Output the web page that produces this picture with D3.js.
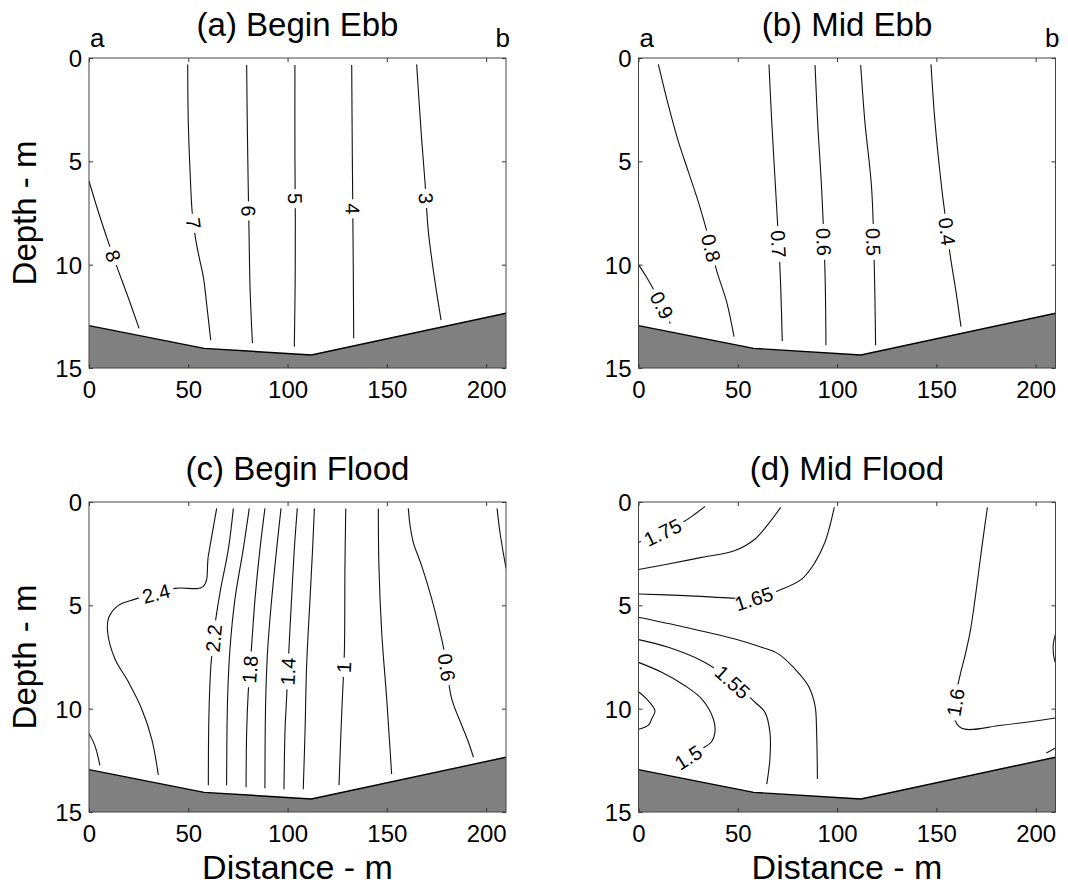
<!DOCTYPE html>
<html>
<head>
<meta charset="utf-8">
<script src="https://cdn.jsdelivr.net/npm/d3@7"></script>
<style>
  html, body { margin: 0; padding: 0; background: #fff; }
  svg text { font-family: "Liberation Sans", Arial, Helvetica, sans-serif; fill: #000; }
</style>
</head>
<body>
<svg id="fig" width="1068" height="888"></svg>
<script>
// ---- axis ticks and channel bed (distance m, depth m) ----
const distanceTicks = [0, 50, 100, 150, 200];
const depthTicks = [0, 5, 10, 15];
const bedProfile = [[0, 12.95], [58, 14.05], [112, 14.37], [210, 12.35]];
const panelTitles = ["(a) Begin Ebb", "(b) Mid Ebb", "(c) Begin Flood", "(d) Mid Flood"];

// ---- contour lines: level, label anchor [distance, depth] (null = unlabeled), vertices ----
const beginEbbContours = [
  { level: "8", label: [11.4, 9.6], points: [[0, 5.95], [4.7, 7.44], [9.7, 8.9], [14.8, 10.3], [19.8, 11.6], [25.2, 13.08]] },
  { level: "7", label: [52.5, 8.0], points: [[49.7, 0.31], [50, 3.08], [50.9, 5.5], [52, 7.5], [53.6, 8.7], [55.6, 9.7], [57.6, 10.6], [59.3, 11.95], [61.3, 13.65]] },
  { level: "6", label: [80.3, 7.4], points: [[79.4, 0.34], [79.7, 3.08], [80.2, 6.3], [80.6, 8.5], [81.1, 11.1], [82.3, 13.8]] },
  { level: "5", label: [103.8, 6.8], points: [[103.7, 0.34], [103.7, 4.7], [103.9, 8.0], [103.8, 11.0], [103.4, 13.97]] },
  { level: "4", label: [132.5, 7.3], points: [[132.3, 0.34], [132.6, 4.7], [132.9, 8.0], [133.1, 10.3], [133.3, 13.56]] },
  { level: "3", label: [169.0, 6.8], points: [[165, 0.31], [167.5, 3.9], [169.2, 6.0], [170.9, 8.4], [174.2, 10.8], [177.3, 12.68]] }
];

const midEbbContours = [
  { level: "0.9", label: [11, 12.0], points: [[0, 10.0], [4, 10.6], [9, 11.45], [12.5, 12.1], [16, 12.85]] },
  { level: "0.8", label: [36.3, 9.2], points: [[10, 0.31], [15, 2.27], [20.1, 4.05], [25.1, 5.5], [30.1, 6.95], [35, 8.6], [39.4, 10.3], [44.4, 11.8], [48.1, 13.48]] },
  { level: "0.7", label: [70.2, 9.0], points: [[65.7, 0.31], [67.1, 3.08], [69.6, 7.27], [71.3, 10.3], [72.4, 13.7]] },
  { level: "0.6", label: [93.2, 8.9], points: [[88.9, 0.34], [90.2, 3.08], [92.2, 6.3], [93.9, 10.3], [94.4, 13.9]] },
  { level: "0.5", label: [118.2, 8.9], points: [[111.9, 0.34], [114, 3.08], [117.4, 6.3], [118.8, 10.3], [119.4, 13.9]] },
  { level: "0.4", label: [155.0, 8.4], points: [[147.3, 0.31], [149.3, 3.08], [152.7, 6.3], [154.4, 7.6], [156.9, 9.5], [160.2, 11.5], [162.4, 13.0]] }
];

const beginFloodContours = [
  { level: "2.6", label: null, points: [[0, 11.2], [3, 11.8], [5.5, 12.75]] },
  { level: "2.4", label: [34, 4.5], points: [[34.9, 13.2], [31.6, 11.47], [26.5, 10.0], [19.8, 8.7], [13.1, 7.6], [9.4, 6.3], [9.9, 5.6], [14.8, 5.0], [23.2, 4.7], [43.3, 4.18], [57.6, 4.08], [60.1, 2.6], [64.3, 0.31]] },
  { level: "2.2", label: [63.4, 6.6], points: [[72.7, 0.31], [70.2, 2.27], [66, 4.37], [63.4, 5.98], [61.4, 7.9], [60.4, 10.3], [60.1, 13.7]] },
  { level: "2", label: null, points: [[80.7, 0.31], [77.7, 2.27], [73.5, 4.7], [71, 7.1], [69.8, 9.5], [69.3, 13.7]] },
  { level: "1.8", label: [81.0, 8.1], points: [[88.6, 0.31], [86.1, 2.27], [83.6, 4.7], [81.9, 6.95], [80.2, 9.2], [79.4, 11.1], [79.1, 13.8]] },
  { level: "1.6", label: null, points: [[96.7, 0.31], [94.5, 2.27], [92, 4.7], [90, 7.1], [89, 9.5], [88.6, 13.85]] },
  { level: "1.4", label: [100.1, 8.2], points: [[104.9, 0.31], [103.4, 2.27], [102, 4.7], [100.7, 7.1], [99.5, 9.5], [98.7, 11.1], [98.2, 13.9]] },
  { level: "1.2", label: null, points: [[113.5, 0.31], [112.6, 2.27], [111.3, 4.7], [109.6, 7.9], [108.8, 11.1], [107.9, 13.9]] },
  { level: "1", label: [128.2, 8.0], points: [[129.3, 0.31], [128.9, 3.08], [128.6, 7.27], [127.6, 9.5], [126.9, 11.1], [125.9, 13.7]] },
  { level: "0.8", label: null, points: [[145.7, 0.31], [146, 3.08], [147.4, 6.3], [149.9, 9.5], [151.6, 11.95], [152.4, 13.16]] },
  { level: "0.6", label: [180.3, 8.0], points: [[160.8, 0.31], [161.7, 1.15], [163.3, 1.95], [167.5, 3.08], [172.6, 4.69], [176.8, 6.3], [179, 7.27], [182.6, 9.5], [187.7, 10.8], [191, 11.6], [193.6, 12.35]] },
  { level: "0.4", label: null, points: [[205.5, 0.31], [207, 1.5], [210, 3.2]] }
];

const midFloodContours = [
  { level: "1.75", label: [12, 1.45], points: [[0, 1.95], [5, 1.8], [21.7, 1.02], [28.5, 0.58], [33.5, 0.21]] },
  { level: "1.7", label: null, points: [[0, 3.27], [15, 3.0], [31.8, 2.68], [48.6, 2.35], [58.7, 1.79], [65.4, 1.06], [71.6, 0.26]] },
  { level: "1.65", label: [58, 4.66], points: [[0, 4.45], [23.4, 4.53], [46.9, 4.65], [58, 4.68], [70.4, 4.29], [82.2, 3.73], [88.9, 2.92], [93.9, 1.95], [96.4, 1.15], [98.6, 0.26]] },
  { level: "1.6", label: null, points: [[0, 5.58], [23.4, 6.06], [48.6, 6.63], [62, 7.03], [70.4, 7.35], [78.8, 8.08], [85.5, 8.89], [88.9, 9.85], [89.7, 11.15], [90.1, 13.4]] },
  { level: "1.55", label: [47, 8.75], points: [[0, 6.66], [15, 7.03], [31.8, 7.68], [45, 8.5], [58.7, 9.69], [63.7, 10.18], [66.2, 11.15], [66.2, 12.4], [64.6, 13.65]] },
  { level: "1.5", label: [25, 12.35], points: [[0, 7.76], [11.7, 8.24], [23.4, 8.89], [31.8, 9.53], [37.7, 10.5], [38.5, 11.15], [36.8, 11.6], [31.8, 11.95], [18.4, 12.76]] },
  { level: "1.45", label: null, points: [[0, 9.18], [4.1, 9.53], [8.3, 10.1], [6.6, 10.5], [5, 10.8], [0, 11.0]] },
  { level: "1.6", label: [160.2, 9.7], points: [[175.7, 0.26], [172.8, 2.27], [169.5, 4.69], [167, 6.3], [164.4, 7.44], [161.9, 8.4], [158.6, 10.3], [162.8, 10.95], [182.9, 10.8], [210, 10.45]] },
  { level: "1.65", label: null, points: [[210, 6.4], [209, 6.8], [208.8, 7.1], [209.2, 7.5], [210, 7.8]] },
  { level: "1.55", label: null, points: [[205.4, 12.15], [210, 11.9]] }
];

// ---- layout ----
const W = 417, H = 310;
const panels = [
  { x0: 89,    y0: 58,  title: panelTitles[0], data: beginEbbContours,   ends: true,  yLabel: true,  xLabel: false },
  { x0: 638.5, y0: 58,  title: panelTitles[1], data: midEbbContours,     ends: true,  yLabel: false, xLabel: false },
  { x0: 89,    y0: 502, title: panelTitles[2], data: beginFloodContours, ends: false, yLabel: true,  xLabel: true },
  { x0: 638.5, y0: 502, title: panelTitles[3], data: midFloodContours,   ends: false, yLabel: false, xLabel: true }
];

const svg = d3.select("#fig");
const x = d3.scaleLinear().domain([0, 210]).range([0, W]);
const y = d3.scaleLinear().domain([0, 15]).range([0, H]);

const line = d3.line().x(d => x(d[0])).y(d => y(d[1])).curve(d3.curveCatmullRom.alpha(0.5));

// nearest point on a polyline (screen space) and the local direction there
function snapToLine(pts, target) {
  const tx = x(target[0]), ty = y(target[1]);
  let best = null;
  for (let i = 0; i < pts.length - 1; i++) {
    const ax = x(pts[i][0]), ay = y(pts[i][1]);
    const bx = x(pts[i + 1][0]), by = y(pts[i + 1][1]);
    const dx = bx - ax, dy = by - ay;
    const len2 = dx * dx + dy * dy || 1;
    let t = ((tx - ax) * dx + (ty - ay) * dy) / len2;
    t = Math.max(0, Math.min(1, t));
    const px = ax + t * dx, py = ay + t * dy;
    const dist = Math.hypot(px - tx, py - ty);
    if (!best || dist < best.dist) {
      let ang = Math.atan2(dy, dx) * 180 / Math.PI;
      if (ang > 90) ang -= 180;
      if (ang <= -90) ang += 180;
      best = { px, py, ang, dist };
    }
  }
  return best;
}

panels.forEach((p, k) => {
  const g = svg.append("g").attr("transform", `translate(${p.x0},${p.y0})`);
  const clipId = "clip" + k;
  g.append("clipPath").attr("id", clipId)
    .append("rect").attr("width", W).attr("height", H);

  const plot = g.append("g").attr("clip-path", `url(#${clipId})`);

  // contour lines
  plot.selectAll("path.contour").data(p.data).enter().append("path")
    .attr("class", "contour")
    .attr("d", d => line(d.points))
    .attr("fill", "none").attr("stroke", "#111").attr("stroke-width", 1.1);

  // inline contour labels with a gap in the line
  p.data.filter(d => d.label).forEach(d => {
    const s = snapToLine(d.points, d.label);
    const lg = plot.append("g").attr("transform", `translate(${s.px},${s.py}) rotate(${s.ang})`);
    const gap = lg.append("rect").attr("fill", "#fff");
    const t = lg.append("text").text(d.level)
      .attr("text-anchor", "middle").attr("dy", "0.36em")
      .style("font-size", "20px");
    const w = t.node().getComputedTextLength();
    gap.attr("x", -w / 2 - 4).attr("width", w + 8).attr("y", -6).attr("height", 12);
  });

  // channel bed
  const bedArea = d3.area().x(d => x(d[0])).y0(y(15)).y1(d => y(d[1]));
  plot.append("path").datum(bedProfile).attr("d", bedArea).attr("fill", "#808080");
  plot.append("path").datum(bedProfile)
    .attr("d", d3.line().x(d => x(d[0])).y(d => y(d[1])))
    .attr("fill", "none").attr("stroke", "#000").attr("stroke-width", 1.4);

  // axes: ticks inside on all four sides
  const axB = g.append("g").attr("transform", `translate(0,${H})`)
    .call(d3.axisBottom(x).tickValues(distanceTicks).tickSizeInner(-4).tickSizeOuter(0).tickPadding(13));
  const axL = g.append("g")
    .call(d3.axisLeft(y).tickValues(depthTicks).tickSizeInner(-4).tickSizeOuter(0).tickPadding(7));
  g.append("g").call(d3.axisTop(x).tickValues(distanceTicks).tickSizeInner(-4).tickSizeOuter(0).tickFormat(""));
  g.append("g").attr("transform", `translate(${W},0)`)
    .call(d3.axisRight(y).tickValues(depthTicks).tickSizeInner(-4).tickSizeOuter(0).tickFormat(""));
  g.selectAll(".domain").remove();
  g.selectAll(".tick line").attr("stroke", "#333");
  [axB, axL].forEach(a => a.selectAll("text")
    .style("font-size", "24px").style("font-family", "'Liberation Sans', Arial, sans-serif").attr("fill", "#000"));
  axL.selectAll("text").attr("dy", "0.36em");

  // frame
  g.append("rect").attr("width", W).attr("height", H)
    .attr("fill", "none").attr("stroke", "#444").attr("stroke-width", 1);

  // title
  g.append("text").attr("x", W / 2).attr("y", -22).attr("text-anchor", "middle")
    .style("font-size", "33px").text(p.title);

  // section end markers
  if (p.ends) {
    g.append("text").attr("x", 1).attr("y", -11).style("font-size", "26px").text("a");
    g.append("text").attr("x", W + 4).attr("y", -11).attr("text-anchor", "end").style("font-size", "26px").text("b");
  }

  if (p.yLabel) {
    g.append("text")
      .attr("transform", `translate(${36 - p.x0},${H / 2}) rotate(-90)`)
      .attr("text-anchor", "middle").style("font-size", "33px").text("Depth - m");
  }
  if (p.xLabel) {
    g.append("text").attr("x", W / 2).attr("y", H + 67).attr("text-anchor", "middle")
      .style("font-size", "34px").text("Distance - m");
  }
});
</script>
</body>
</html>
